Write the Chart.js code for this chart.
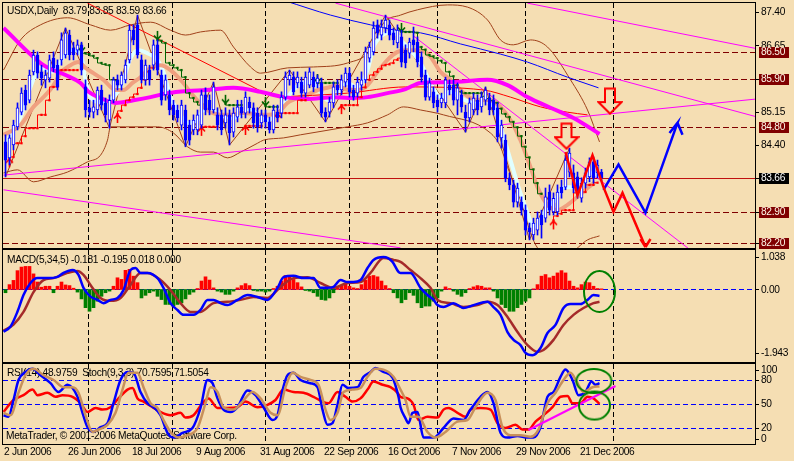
<!DOCTYPE html>
<html>
<head>
<meta charset="utf-8">
<title>USDX Daily</title>
<script src="https://cdn.jsdelivr.net/npm/chart.js@4.4.1/dist/chart.umd.min.js"></script>
<style>
html,body{margin:0;padding:0;background:#F5DEB3;width:794px;height:461px;overflow:hidden}
canvas{position:absolute;left:0;display:block}
</style>
</head>
<body>
<canvas id="cMain" width="794" height="250" style="top:0"></canvas>
<canvas id="cMacd" width="794" height="114" style="top:249px"></canvas>
<canvas id="cRsi" width="794" height="99" style="top:362px"></canvas>
<script>
// ---------------- DATA ----------------
const dateLabels = ['2 Jun 2006','26 Jun 2006','18 Jul 2006','9 Aug 2006','31 Aug 2006','22 Sep 2006','16 Oct 2006','7 Nov 2006','29 Nov 2006','21 Dec 2006'];
const dateLabelBars = [0,16,32,48,64,80,96,112,128,144];
const separatorBars = [20.5,41.5,64.75,85.75,107.75,129.75,151.75];

const open = [84.47,84.11,84.40,84.81,85.14,85.64,85.41,86.05,86.43,86.05,
85.87,85.91,86.36,86.20,86.32,86.43,86.88,86.59,86.54,86.66,
85.71,85.24,85.14,85.19,85.64,85.35,84.96,85.41,85.87,85.75,
85.87,86.32,86.99,87.11,86.32,85.87,86.09,86.20,86.66,85.98,
85.53,85.53,85.30,85.19,84.85,85.19,84.85,84.74,84.74,84.85,
85.53,85.41,85.19,85.08,85.08,84.90,85.08,84.69,85.03,85.26,
85.12,85.37,85.24,85.12,84.90,85.08,84.92,84.74,85.14,85.12,
85.48,85.87,85.93,85.80,85.82,85.57,85.75,85.93,85.80,85.80,
85.14,85.14,85.35,85.75,85.64,85.82,86.02,85.64,85.57,85.75,
85.87,86.36,86.50,87.11,86.88,87.04,87.11,86.93,86.70,86.84,
86.54,86.47,86.77,86.72,86.39,85.98,85.48,85.60,85.41,85.35,
85.35,85.75,85.75,85.41,85.53,85.14,85.01,85.19,85.41,85.26,
85.41,85.46,85.41,85.24,84.56,84.51,83.66,83.50,83.11,83.11,
82.93,82.53,82.37,82.48,82.82,82.75,83.34,82.89,82.89,83.45,
83.45,83.79,83.77,83.68,83.20,83.54,83.68,84.02,83.77,83.79];
const high = [84.63,84.63,84.96,85.35,85.69,85.75,86.09,86.54,86.50,86.20,
86.09,86.43,86.50,86.32,86.93,87.04,86.99,86.72,86.77,86.72,
85.87,85.41,85.41,85.71,85.75,85.46,85.53,85.93,85.98,86.05,
86.32,87.11,87.11,87.33,86.43,86.32,86.20,86.77,86.77,86.09,
85.98,85.64,85.41,85.30,85.41,85.30,84.96,85.08,85.19,85.64,
85.69,85.53,85.82,85.24,85.19,85.24,85.19,85.24,85.41,85.41,
85.60,85.48,85.35,85.24,85.19,85.19,85.03,85.30,85.30,85.60,
86.05,86.09,86.05,86.05,85.93,86.05,86.14,86.05,85.98,85.91,
85.24,85.48,85.82,85.87,85.98,86.14,86.14,85.75,85.93,86.05,
86.61,86.72,87.18,87.22,87.22,87.33,87.22,87.04,87.11,86.99,
86.66,86.81,87.06,86.84,86.50,86.09,85.91,85.71,85.53,85.57,
85.93,85.87,85.87,85.80,85.64,85.30,85.46,85.57,85.53,85.60,
85.71,85.57,85.53,85.35,84.96,84.63,83.77,83.61,83.54,83.23,
83.05,82.64,82.75,82.89,82.93,83.43,83.50,83.32,83.50,83.61,
84.17,84.33,83.95,83.79,83.66,83.88,84.11,84.13,84.06,83.85];
const low = [83.68,83.95,84.29,84.74,85.08,85.19,85.35,85.98,85.91,85.75,
85.69,85.82,86.05,85.64,86.20,86.36,86.32,86.32,86.43,85.98,
85.03,85.03,85.01,85.08,85.19,84.92,84.78,85.35,85.64,85.64,
85.80,86.25,86.66,86.36,85.80,85.75,85.75,86.09,85.98,85.30,
85.41,85.08,84.96,84.92,84.74,84.36,84.40,84.63,84.63,84.78,
85.08,85.08,85.12,84.74,84.63,84.78,84.40,84.58,84.92,85.01,
85.01,85.12,84.78,84.69,84.78,84.78,84.67,84.67,84.92,85.01,
85.41,85.75,85.53,85.69,85.48,85.48,85.69,85.60,85.69,85.03,
84.92,85.03,85.24,85.53,85.53,85.71,85.48,85.41,85.48,85.64,
85.80,86.27,86.43,86.81,86.77,86.93,86.77,86.66,86.59,86.16,
86.14,86.36,86.50,86.16,85.82,85.41,85.41,85.24,85.14,85.24,
85.24,85.53,85.30,85.08,85.14,84.69,84.92,85.08,85.08,85.14,
85.30,85.08,85.08,84.47,84.33,83.57,83.39,83.00,83.00,82.82,
82.37,82.26,82.26,82.37,82.30,82.66,82.82,82.82,82.82,83.20,
83.39,83.68,83.32,83.20,83.11,83.43,83.57,83.54,83.66,83.59];
const close = [84.06,84.56,84.85,85.24,85.57,85.30,85.98,86.43,86.02,85.91,
85.98,86.32,86.14,85.71,86.77,86.93,86.43,86.43,86.66,86.09,
85.19,85.14,85.26,85.64,85.30,85.08,85.41,85.87,85.75,85.98,
86.20,86.99,86.77,86.43,85.87,86.20,85.87,86.66,86.09,85.41,
85.87,85.19,85.08,85.01,85.30,84.51,84.51,84.96,85.08,85.53,
85.19,85.19,85.71,84.85,84.74,85.08,84.67,85.12,85.26,85.12,
85.48,85.24,84.90,84.81,85.08,84.92,84.74,85.19,85.01,85.48,
85.93,85.98,85.60,85.93,85.57,85.93,86.05,85.71,85.91,85.12,
85.03,85.37,85.71,85.64,85.87,86.02,85.60,85.48,85.82,85.87,
86.50,86.61,87.04,86.93,87.06,87.22,86.88,86.77,86.99,86.27,
86.25,86.72,86.66,86.27,85.93,85.48,85.80,85.35,85.26,85.46,
85.87,85.64,85.41,85.69,85.26,85.01,85.35,85.46,85.19,85.48,
85.64,85.19,85.19,84.58,84.85,83.66,83.50,83.11,83.43,82.93,
82.48,82.44,82.64,82.75,82.60,83.23,82.93,83.20,83.34,83.32,
84.06,84.22,83.43,83.32,83.54,83.77,84.02,83.66,83.95,83.66];

// moving averages / bands on the price panel (bar position, price)
const maSlowBars = [-0.5,9.5,15,18.75,20.75,23.75,27.5,32,36.25,40.5,45.5,50,57,63.75,69.5,75.5,82,85.75,90.5,95.5,100,103.75,111.25,120.5,125.5,130.5,136.25,142,148.5];
const maSlowVals = [87.04,86.20,85.98,85.80,85.60,85.46,85.35,85.41,85.48,85.57,85.62,85.64,85.69,85.60,85.48,85.44,85.48,85.46,85.48,85.57,85.66,85.80,85.82,85.87,85.75,85.48,85.24,85.01,84.65];
const maFastBars = [0,3.75,6.25,8.75,11.75,14.5,16.75,18.75,20,21.25,23.75,27,29.25,31.25,33.25,35.5,38,39.5,41.25,43,45.5,48,49.5,51.25,53.75,57,61.25,65.5,68.75,71.25,74.5,77,78.75,80.5,83,85.5,88,90.5,92,94.25,97,99.5,101.25,103.75,106.25,108.75,111.25,113.75,116.25,119.5,122.5,124.25,126.25,128.25,130.5,132,133.75,135.5,137.5,139.5,142,144.25,146.25,148.75];
const maFastVals = [84.44,85.03,85.71,86.14,86.05,86.39,86.54,86.47,85.87,85.48,85.37,85.48,85.80,86.36,86.54,86.47,86.32,86.05,85.48,85.19,84.90,84.96,85.19,85.19,85.08,85.01,85.19,84.96,85.19,85.57,85.80,85.82,85.60,85.41,85.57,85.80,85.69,86.09,86.61,86.88,86.95,86.70,86.54,86.25,85.80,85.48,85.60,85.46,85.37,85.41,85.19,84.67,84.06,83.45,82.87,82.55,82.71,83.00,83.16,83.45,83.45,83.61,83.77,83.68];
const maMidBars = [-0.5,3.75,7,9.5,11.75,13.75,16.25,18.25,20,22,24.5,27.5,29.5,31.75,33.75,36.25,38.75,41.25,44.25,46.75,49.5,51.25,55.5,59.5,64.5,68,70.5,73,75.5,78,80.5,83,85.5,88,90.5,93,95.5,98,100,103.75,106.25,108.75,111.25,113.75,116.25,118.75,121.25,123.75,126.25,128.75,131.25,133,135.5,138,140.5,143.25,145.5,147.5];
const maMidVals = [84.63,84.85,85.26,85.48,85.71,86.02,86.20,86.27,86.14,86.02,85.87,85.64,85.64,85.80,85.93,86.14,86.20,86.09,85.82,85.53,85.26,85.14,85.08,85.12,85.08,85.12,85.35,85.46,85.53,85.64,85.69,85.75,85.64,85.64,85.75,86.05,86.32,86.50,86.54,86.54,86.39,86.05,85.87,85.64,85.46,85.41,85.41,85.26,84.96,84.51,83.90,83.45,83.05,82.93,83.05,83.25,83.43,83.57];
const maRedBars = [68,85.5,100,119.5,126.25,133.75,140.5,145.5];
const maRedVals = [85.48,85.57,85.71,85.64,85.48,85.26,85.14,85.08];
const maBlueBars = [70,81.25,91.25,98.75,103.75,113.75,123.75,130.5,140.5,148.25];
const maBlueVals = [87.65,87.33,87.11,86.97,86.93,86.68,86.45,86.27,85.93,85.69];
const bandUpBars = [-0.5,3.75,8.75,15.5,21.25,26.25,31.25,36.25,41.25,45,48.75,53.75,57,61.25,63.75,70.5,77,85.5,91.25,94.5,98.75,103,110.5,115.5,120.5,123.75,127,131.25,135.5,141.25,145.5,148.5];
const bandUpVals = [86.09,86.77,87.11,87.27,87.11,86.99,87.11,87.17,86.99,86.88,86.95,86.99,86.61,86.16,86.02,86.14,86.16,86.25,86.54,87.15,87.33,87.45,87.56,87.51,87.22,86.77,86.66,86.77,86.61,85.87,85.19,84.47];
const bandLoBars = [-0.5,3,7,11.25,15.5,20.5,23.75,25.5,26.25,30,38,42,45.5,48.75,52,55.5,58.75,63,64.5,69.5,73.75,85.5,90.5,95.5,99.5,103.75,109.5,121.25,123.75,125.5,128.75,131.25,133,137,141,145.5,148.5];
const bandLoVals = [83.77,83.84,83.57,83.68,83.79,84.02,84.17,84.51,84.81,84.81,84.81,84.67,84.36,84.24,84.24,84.11,84.24,84.44,84.51,84.56,84.63,84.81,84.90,85.08,85.26,85.19,85.08,84.67,84.36,83.90,83.16,82.42,82.08,81.90,81.95,82.26,82.35];
// zigzag swing points
const zigBars = [0,15,26,33,45,52,56,71,80,95,115,120,131,141];
const zigVals = [83.68,87.04,84.78,87.33,84.36,85.82,84.40,86.09,84.92,87.33,84.69,85.71,82.26,84.33];

// trailing stop dots: first bar of each run + values
const greenStopStarts = [19,38,55,65,78,99];
const greenStopRuns = [
 [86.50,86.47,86.45,86.41,86.36,86.25,86.22,86.20,85.87,85.85],
 [86.77,86.75,86.70,86.25,86.20,86.14,86.09,85.93,85.57,85.46,85.37,85.30],
 [85.33,85.30,85.30,85.30,85.30],
 [85.28,85.26,85.26,85.26],
 [85.80,85.80,85.80,85.80,85.80,85.80],
 [86.95,86.95,86.95,86.95,86.93,86.61,86.55,86.43,86.40,86.36,86.30,86.25,86.05,85.95,85.75,85.60,85.57,85.57,85.57,85.57,85.57,85.50,85.45,85.40,85.35,85.22,85.10,85.03,84.92,84.80,84.60,84.36,84.12,83.85,83.54,83.30]];
const redStopStarts = [1,28,49,60,68,84,137];
const redStopRuns = [
 [84.10,84.13,84.44,84.44,84.60,84.78,84.78,84.78,85.08,85.08,85.41,85.71,85.71,86.09,86.09,86.09,86.09,86.09],
 [85.10,85.17,85.30,85.41,85.48,85.55,85.69,85.87,86.05,86.14],
 [84.81,84.81,84.81,84.81,84.81],
 [84.83,84.83,84.83,84.83,84.83],
 [85.12,85.12,85.12,85.12,85.12,85.12,85.41,85.41],
 [85.30,85.30,85.30,85.30,85.30,85.48,85.70,85.87,85.98,86.05,86.12,86.20,86.22,86.25,86.32,86.36],
 [82.70,82.80,82.85,82.93,82.93,82.93,83.32,83.34,83.34,83.50,83.50,83.55]];

// straight trend lines: [bar1, price1, bar2, price2]
const trendMagenta = [[130.5,87.60,188,86.57],[82.5,87.60,188,85.03],[-0.5,83.72,188,85.44],[-0.5,83.39,98.75,82.08],[102,86.86,171.25,82.03]];
const trendRed = [20.5,87.60,63.75,85.62];

// forecast paths (vertices)
const blueFcBars = [149.5,153.25,160,168,166,166,168,169.25];
const blueFcVals = [83.39,83.96,82.87,84.90,84.67,null,84.90,84.63];
const redFcBars = [140,143,146.75,149.5,152,154.25,160,158.75,158.75,160,161.25];
const redFcVals = [84.24,83.27,84.17,83.45,82.89,83.32,82.10,82.28,null,82.10,82.28];
const arrowBars = [140.25,151.125];
const arrowVals = [84.60,85.39];

const levelLines = [86.50,85.90,84.80,82.90,82.20];
const lastPrice = 83.66;
const priceTicks = [87.40,86.65,85.90,85.15,84.40,83.65,82.90,82.15];

// MACD(5,34,5)
const macdBars = [-0.5,1.25,3,4.5,6.25,8,10.5,13,14.5,16.75,18.25,19.5,21.25,23,24.5,26.25,28,29.5,31.25,32.5,33.75,35.5,38,39.5,41.25,43,44.5,47,48.75,50.5,52,53.75,55.5,58,60.5,63,65.5,68,69.5,72,74.5,77,78.75,80.5,82,83.75,85.5,87,88.75,90.5,92,94.5,96.75,98.25,98.75,101.25,103.75,105.5,107,108,109.5,112,114.5,117,120.5,122,123.75,125.5,127,128.75,130,131.75,133.75,135.5,137.5,139.5,141.25,143.75,145.5,147,148.5];
const macdVals = [-1.30,-1.14,-0.68,-0.17,0.20,0.35,0.35,0.39,0.51,0.60,0.45,0.05,-0.22,-0.32,-0.42,-0.32,-0.26,-0.02,0.60,0.66,0.51,0.51,0.35,0.05,-0.42,-0.63,-0.78,-0.78,-0.63,-0.32,-0.32,-0.42,-0.48,-0.32,-0.17,-0.23,-0.32,0.05,0.38,0.42,0.35,0.35,0.05,0.05,0.08,0.29,0.23,0.23,0.29,0.66,0.91,1.00,0.85,0.54,0.51,0.51,0.05,-0.17,-0.32,-0.48,-0.54,-0.42,-0.57,-0.48,-0.38,-0.54,-0.78,-1.31,-1.55,-1.71,-1.95,-2.02,-1.80,-1.34,-1.09,-0.57,-0.45,-0.45,-0.32,-0.17,-0.20];
const signalBars = [-0.5,2,4.5,7,9.5,12,15.5,18,19.5,21.25,23.75,26.25,28.75,31.25,33.75,35.5,38.75,41.25,43.75,46.25,48.75,52,55.5,58.75,62,65.5,68.75,72,75.5,78.75,82,85.5,88.75,91.25,94.5,97,98.75,101.25,103.75,106.25,108,111.25,114.5,118,120.5,123,125.5,128,130.5,133,134.5,137,139.5,142,144.5,147,148.5];
const signalVals = [-1.27,-1.08,-0.69,-0.08,0.29,0.35,0.51,0.57,0.45,0.14,-0.26,-0.35,-0.26,0.14,0.51,0.51,0.29,-0.02,-0.42,-0.69,-0.69,-0.42,-0.38,-0.32,-0.23,-0.26,0.08,0.35,0.38,0.20,0.05,0.20,0.23,0.51,0.97,0.91,0.85,0.60,0.35,0.05,-0.32,-0.42,-0.54,-0.48,-0.38,-0.48,-0.85,-1.31,-1.71,-1.92,-1.86,-1.55,-1.09,-0.78,-0.57,-0.42,-0.38];
const osma = [-0.10,0.15,0.28,0.58,0.69,0.71,0.71,0.48,0.23,0.07,
0.10,0.10,-0.10,0.10,0.23,0.14,0.12,0.04,-0.08,-0.29,
-0.56,-0.67,-0.56,-0.36,-0.21,-0.10,-0.05,0.10,0.36,0.31,
0.59,0.62,0.41,0.21,-0.26,-0.18,-0.10,-0.05,-0.21,-0.31,
-0.46,-0.46,-0.51,-0.46,-0.41,-0.29,-0.15,-0.08,0.03,0.26,
0.39,0.29,0.05,-0.05,-0.08,-0.15,-0.15,-0.05,0.05,0.12,
0.18,0.12,-0.03,-0.05,-0.05,-0.08,-0.05,0.03,0.10,0.26,
0.43,0.39,0.31,0.21,0.08,-0.03,-0.05,-0.10,-0.21,-0.31,
-0.33,-0.26,-0.10,0.05,0.12,0.18,0.10,0.05,0.03,0.15,
0.29,0.41,0.43,0.39,0.26,0.12,0.03,-0.10,-0.26,-0.41,
-0.31,-0.10,-0.18,-0.41,-0.56,-0.51,-0.51,-0.36,-0.26,-0.05,
0.08,0.03,-0.05,-0.15,-0.21,-0.10,0.03,0.08,0.12,0.10,
0.05,0.05,-0.05,-0.26,-0.46,-0.56,-0.67,-0.67,-0.56,-0.46,
-0.36,-0.26,0.02,0.15,0.41,0.46,0.36,0.41,0.51,0.58,
0.51,0.26,0.10,0.05,0.15,0.23,0.21,0.10,0.03,0.02];
const macdTicks = [1.038,0,-1.943];
const macdTickText = ['1.038','0.00','-1.943'];

// RSI + Stochastic(9,3,3)
const rsiBars = [-0.5,2,4.5,6.75,8,10.5,12.5,14.25,16.75,18.75,20.5,22.5,24.25,26.25,28.25,30.5,31.75,33,34.5,36.75,38.75,41.25,43.75,45,47,49.25,50.75,53,55.5,58,60,63,65.5,67.5,69.5,72,74.5,77,79.25,80.75,83,85,86.75,88.75,90.5,92,94.25,96.25,98,98.75,100.5,102,103.25,105.5,108,109.5,110.75,113,115,116.25,118.75,121.25,123,125,127.5,129.25,130.75,132.5,134.5,136.75,138.75,140.5,141.75,143.75,145.5,147,148.5];
const rsiVals = [40,55,61,68,61,64,59,61,59,51,40,45,43,46,57,68,70,57,53,46,40,36,39,33,36,51,57,45,45,46,53,46,49,55,68,65,64,59,53,51,65,59,53,57,68,78,74,71,64,59,57,49,30,34,33,43,45,39,34,43,45,43,26,20,24,18,18,28,36,46,59,60,51,51,59,57,50];
const stochBars = [-0.5,0.75,2,3.25,5,6.75,8.75,11.25,13.25,15.5,16.75,18,19.25,20.5,22,23.75,25.5,27,28.75,30.5,32,33.75,35.5,37,38.75,40.5,42,44.25,46.75,48.75,50.5,51.75,53,54.5,56.25,58,60.5,62.5,64.5,66.75,68,69.25,70.5,72,73.75,76.25,78,79.25,80.5,81.75,83,84.25,85.75,88,89.5,91.25,92.5,94.5,96.75,98.25,98.75,100,100.75,101.75,103,104.5,107,109.5,112,114.5,116.25,118.75,120.5,122,123.75,125.5,128,130.5,132,133.75,135.5,137,138.75,140,141.75,143.25,145,146.5,147.5,148.5];
const stochVals = [36,34,55,80,90,94,86,76,65,74,70,59,39,21,15,21,26,51,80,90,89,65,51,46,36,14,8,14,20,45,80,76,57,43,40,46,67,61,46,30,36,67,86,89,80,76,71,43,24,26,49,74,70,71,84,90,95,90,83,59,46,32,26,39,40,8,8,20,32,30,43,59,65,51,14,8,10,8,8,21,59,65,84,93,80,61,65,78,74,76];
const stochSigBars = [-0.5,1.25,3.25,5,7,9.5,12,14.5,16.75,18.25,20,21.75,23.25,25.5,27.5,29.25,30.75,33,34.5,36.25,38,39.5,41.25,43.25,45.5,48,50,51.25,53,54.5,57,59.25,61.75,63.75,66.25,68,70,71.75,73.75,76.25,78.25,80,81.25,83,84.5,86.75,88.75,90.5,92.5,94.5,97,98.75,100,101.25,103.25,105.5,107.5,110,113,115.5,117.5,120.5,122.5,124.25,126.25,128.75,131.25,133.25,135.5,137.5,139.5,141.25,143,144.5,146.75,148.5];
const stochSigVals = [39,36,64,86,94,86,80,71,71,64,36,15,18,24,39,68,89,89,71,51,45,30,15,8,11,20,51,71,65,46,43,53,65,57,39,36,71,89,84,80,74,43,30,39,65,68,70,84,94,93,84,68,55,34,34,15,8,15,28,30,46,64,55,21,11,11,9,18,51,64,80,89,76,65,71,72];
const rsiTrendLine = [130.75,17.5,152.5,72.5];
const oscLevels = [80,50,20,0];
const oscTicks = [100,80,50,20,0];

// ---------------- RENDERING ----------------
const FONT = '10.2px "Liberation Sans", Arial, sans-serif';
const LETTER_SP = '-0.3px';
const X_MIN = -0.625, X_MAX = 187.375;
const pts = (bars, vals) => bars.map((b, i) => ({x: b, y: vals[i]}));
function runs(starts, rs) {
  const out = [];
  rs.forEach((r, k) => { r.forEach((v, j) => out.push({x: starts[k] + j, y: v})); out.push({x: starts[k] + r.length - 0.5, y: null}); });
  return out;
}
function seg(s) { return [{x: s[0], y: s[1]}, {x: s[2], y: s[3]}]; }
function lineDs(data, color, width, order, extra) {
  return Object.assign({type: 'line', data, borderColor: color, backgroundColor: color, borderWidth: width,
    pointRadius: 0, fill: false, order, spanGaps: false, cubicInterpolationMode: 'monotone'}, extra || {});
}
function setFont(ctx) { ctx.font = FONT; if ('letterSpacing' in ctx) ctx.letterSpacing = LETTER_SP; }

function arrowImage() {
  const c = document.createElement('canvas'); c.width = 26; c.height = 28;
  const g = c.getContext('2d'); g.strokeStyle = '#FF0000'; g.lineWidth = 2; g.lineJoin = 'miter';
  g.beginPath(); g.moveTo(8, 1.5); g.lineTo(18, 1.5); g.lineTo(18, 15); g.lineTo(24.5, 15);
  g.lineTo(13, 26.5); g.lineTo(1.5, 15); g.lineTo(8, 15); g.closePath(); g.stroke();
  return c;
}
// small signal arrow whose tip sits at the image centre
function signalArrow(color, down) {
  const c = document.createElement('canvas'); c.width = 9; c.height = 22;
  const g = c.getContext('2d'); g.strokeStyle = color; g.lineWidth = 1.6;
  g.beginPath();
  if (down) { g.moveTo(4.5, 2); g.lineTo(4.5, 10); g.moveTo(1, 6.5); g.lineTo(4.5, 10.5); g.lineTo(8, 6.5); }
  else { g.moveTo(4.5, 20); g.lineTo(4.5, 12); g.moveTo(1, 15.5); g.lineTo(4.5, 11.5); g.lineTo(8, 15.5); }
  g.stroke();
  return c;
}
function ellipseImage(rx, ry) {
  const c = document.createElement('canvas'); c.width = Math.ceil(rx * 2 + 4); c.height = Math.ceil(ry * 2 + 4);
  const g = c.getContext('2d'); g.strokeStyle = '#008000'; g.lineWidth = 2;
  g.beginPath(); g.ellipse(c.width / 2, c.height / 2, rx, ry, 0, 0, Math.PI * 2); g.stroke();
  return c;
}

function panelPlugin(opt) {
  return {
    id: 'panel_' + opt.name,
    beforeDatasetsDraw(chart) {
      const {ctx, chartArea: a} = chart; const xs = chart.scales.x, ys = chart.scales.y;
      ctx.save();
      ctx.beginPath(); ctx.rect(a.left, a.top, a.right - a.left, a.bottom - a.top); ctx.clip();
      ctx.lineWidth = 1;
      ctx.strokeStyle = '#000'; ctx.setLineDash([5, 3]);
      separatorBars.forEach(b => {
        const px = Math.round(xs.getPixelForValue(b)) + 0.5;
        ctx.beginPath(); ctx.moveTo(px, a.top); ctx.lineTo(px, a.bottom); ctx.stroke();
      });
      (opt.levels || []).forEach(l => {
        const py = Math.round(ys.getPixelForValue(l.v)) + 0.5;
        ctx.strokeStyle = l.color; ctx.setLineDash(l.dash); ctx.lineWidth = l.w || 1;
        ctx.beginPath(); ctx.moveTo(a.left, py); ctx.lineTo(a.right, py); ctx.stroke();
      });
      ctx.setLineDash([]);
      setFont(ctx); ctx.fillStyle = '#000'; ctx.textBaseline = 'middle'; ctx.textAlign = 'left';
      (opt.texts || []).forEach(t => ctx.fillText(t.s, a.left + t.dx, a.top + t.dy));
      ctx.restore();
    },
    afterDraw(chart) {
      const {ctx, chartArea: a} = chart; const xs = chart.scales.x, ys = chart.scales.y;
      ctx.save();
      ctx.strokeStyle = '#000'; ctx.lineWidth = 1; ctx.setLineDash([]);
      ctx.strokeRect(a.left - 0.5, a.top - 0.5, a.right - a.left + 1, a.bottom - a.top + 1);
      setFont(ctx); ctx.textBaseline = 'middle'; ctx.textAlign = 'left'; ctx.fillStyle = '#000';
      opt.ticks.forEach((v, i) => {
        const py = ys.getPixelForValue(v);
        const ly = Math.min(Math.max(py, a.top + opt.clamp[0]), a.bottom - opt.clamp[1]);
        const ty = Math.round(ly) + 0.5;
        ctx.beginPath(); ctx.moveTo(a.right + 1, ty); ctx.lineTo(a.right + 4, ty); ctx.stroke();
        ctx.fillText(opt.tickText ? opt.tickText[i] : v.toFixed(opt.dec), a.right + 6, ly + 0.5);
      });
      (opt.boxes || []).forEach(bx => {
        const py = Math.round(ys.getPixelForValue(bx.v));
        ctx.fillStyle = bx.bg; ctx.fillRect(a.right + 4, py - 5, 30, 11);
        ctx.fillStyle = bx.fg; ctx.fillText(bx.v.toFixed(2), a.right + 6, py + 0.5);
      });
      if (opt.dates) {
        ctx.fillStyle = '#000';
        dateLabelBars.forEach((b, i) => {
          const px = Math.round(xs.getPixelForValue(b));
          ctx.fillText(dateLabels[i], px - 2, a.bottom + 8.5);
        });
      }
      ctx.restore();
    }
  };
}

function baseOptions(ymin, ymax, pad) {
  return {
    responsive: false, animation: false, devicePixelRatio: 1,
    layout: {padding: pad, autoPadding: false},
    plugins: {legend: {display: false}, tooltip: {enabled: false}},
    scales: {
      x: {type: 'linear', min: X_MIN, max: X_MAX, display: false, offset: false, grid: {offset: false}},
      y: {type: 'linear', min: ymin, max: ymax, display: false}
    }
  };
}

const barIdx = open.map((_, i) => i);
const arrowImg = arrowImage();
const greenArrow = signalArrow('#006400', true);
const redArrow = signalArrow('#FF0000', false);

// ---- price panel ----
new Chart(document.getElementById('cMain'), {
  type: 'bar',
  data: {datasets: [
    lineDs(pts(bandUpBars, bandUpVals), '#A0401A', 1, 20),
    lineDs(pts(bandLoBars, bandLoVals), '#A0401A', 1, 20),
    lineDs(pts(zigBars, zigVals), '#A0401A', 1, 20, {cubicInterpolationMode: 'default'}),
    ...trendMagenta.map(s => lineDs(seg(s), '#FF00FF', 1, 19, {cubicInterpolationMode: 'default'})),
    lineDs(seg(trendRed), '#FF0000', 1, 19, {cubicInterpolationMode: 'default'}),
    lineDs(pts(maBlueBars, maBlueVals), '#0000FF', 1, 19),
    lineDs(pts(maFastBars, maFastVals), '#E0FFFF', 4, 18),
    lineDs(pts(maMidBars, maMidVals), '#F0A080', 4, 17),
    lineDs(pts(maRedBars, maRedVals), '#FF0000', 1, 16),
    lineDs(pts(maSlowBars, maSlowVals), '#FF00FF', 4, 15),
    lineDs(runs(greenStopStarts, greenStopRuns), '#006400', 1, 14, {stepped: 'after', pointRadius: 1.6, pointStyle: 'rect', pointBorderWidth: 0, cubicInterpolationMode: 'default'}),
    lineDs(runs(redStopStarts, redStopRuns), '#FF0000', 1, 14, {stepped: 'after', pointRadius: 1.6, pointStyle: 'rect', pointBorderWidth: 0, cubicInterpolationMode: 'default'}),
    {type: 'scatter', data: greenStopStarts.map((b, k) => ({x: b, y: greenStopRuns[k][0]})), pointStyle: greenArrow, pointRadius: 5, order: 13},
    {type: 'scatter', data: redStopStarts.map((b, k) => ({x: b, y: redStopRuns[k][0]})), pointStyle: redArrow, pointRadius: 5, order: 13},
    {type: 'bar', data: barIdx.map(i => ({x: i, y: [low[i], high[i]]})), backgroundColor: '#0000FF', barThickness: 1, grouped: false, order: 4},
    {type: 'bar', data: barIdx.map(i => ({x: i, y: [open[i], close[i]]})),
      backgroundColor: barIdx.map(i => close[i] >= open[i] ? '#FFFFFF' : '#0000FF'),
      borderColor: '#0000FF', borderWidth: 1, borderSkipped: false, barThickness: 3, grouped: false, order: 3},
    lineDs(pts(redFcBars, redFcVals), '#FF0000', 2.5, 2, {cubicInterpolationMode: 'default'}),
    lineDs(pts(blueFcBars, blueFcVals), '#0000FF', 2.5, 2, {cubicInterpolationMode: 'default'}),
    {type: 'scatter', data: pts(arrowBars, arrowVals), pointStyle: arrowImg, pointRadius: 12, order: 1}
  ]},
  options: baseOptions(82.077, 87.603, {left: 3, right: 39, top: 3, bottom: 2}),
  plugins: [panelPlugin({
    name: 'main', dec: 2, ticks: priceTicks, clamp: [5, 5],
    levels: levelLines.map(v => ({v, color: '#800000', dash: [6, 3]})).concat([{v: lastPrice, color: '#C01010', dash: []}]),
    boxes: levelLines.map(v => ({v, bg: '#800000', fg: '#FFF8E8'})).concat([{v: lastPrice, bg: '#000000', fg: '#FFFFFF'}]),
    texts: [{s: 'USDX,Daily  83.79 83.85 83.59 83.66', dx: 4, dy: 8}]
  })]
});

// ---- MACD panel ----
new Chart(document.getElementById('cMacd'), {
  type: 'bar',
  data: {datasets: [
    {type: 'bar', data: barIdx.map(i => ({x: i, y: osma[i]})), backgroundColor: barIdx.map(i => osma[i] >= 0 ? '#FF0000' : '#008000'), barThickness: 3, grouped: false, order: 5},
    lineDs(pts(signalBars, signalVals), '#A52A2A', 2.5, 3),
    lineDs(pts(macdBars, macdVals), '#0000FF', 2.5, 2),
    {type: 'scatter', data: [{x: 148.5, y: -0.06}], pointStyle: ellipseImage(15.5, 20.5), pointRadius: 20, order: 1}
  ]},
  options: baseOptions(-2.231, 1.215, {left: 3, right: 39, top: 1, bottom: 1}),
  plugins: [panelPlugin({
    name: 'macd', ticks: macdTicks, tickText: macdTickText, clamp: [7, 7],
    levels: [{v: 0, color: '#0000FF', dash: [5, 3]}],
    texts: [{s: 'MACD(5,34,5) -0.181 -0.195 0.018 0.000', dx: 4, dy: 10}]
  })]
});

// ---- RSI / Stochastic panel ----
new Chart(document.getElementById('cRsi'), {
  type: 'line',
  data: {datasets: [
    lineDs(pts(rsiBars, rsiVals), '#FF0000', 2.5, 5),
    lineDs(pts(stochBars, stochVals), '#0000FF', 2.5, 4),
    lineDs(pts(stochSigBars, stochSigVals), '#C8905A', 2.5, 3),
    lineDs(seg(rsiTrendLine), '#FF00FF', 2, 2, {cubicInterpolationMode: 'default'}),
    {type: 'scatter', data: [{x: 147.1, y: 78.75}], pointStyle: ellipseImage(17.5, 12), pointRadius: 18, order: 1},
    {type: 'scatter', data: [{x: 147.25, y: 48.1}], pointStyle: ellipseImage(15.5, 14), pointRadius: 16, order: 1}
  ]},
  options: baseOptions(0, 100, {left: 3, right: 39, top: 2, bottom: 17}),
  plugins: [panelPlugin({
    name: 'rsi', dec: 0, ticks: oscTicks, tickText: oscTicks.map(String), clamp: [6, 5], dates: true,
    levels: oscLevels.map(v => ({v, color: '#0000FF', dash: [5, 3]})),
    texts: [{s: 'RSI(14) 48.9759  Stoch(9,3,3) 70.7595 71.5054', dx: 4, dy: 9},
            {s: 'MetaTrader, \u00A9 2001-2006 MetaQuotes Software Corp.', dx: 3, dy: 72}]
  })]
});
</script>
</body>
</html>
